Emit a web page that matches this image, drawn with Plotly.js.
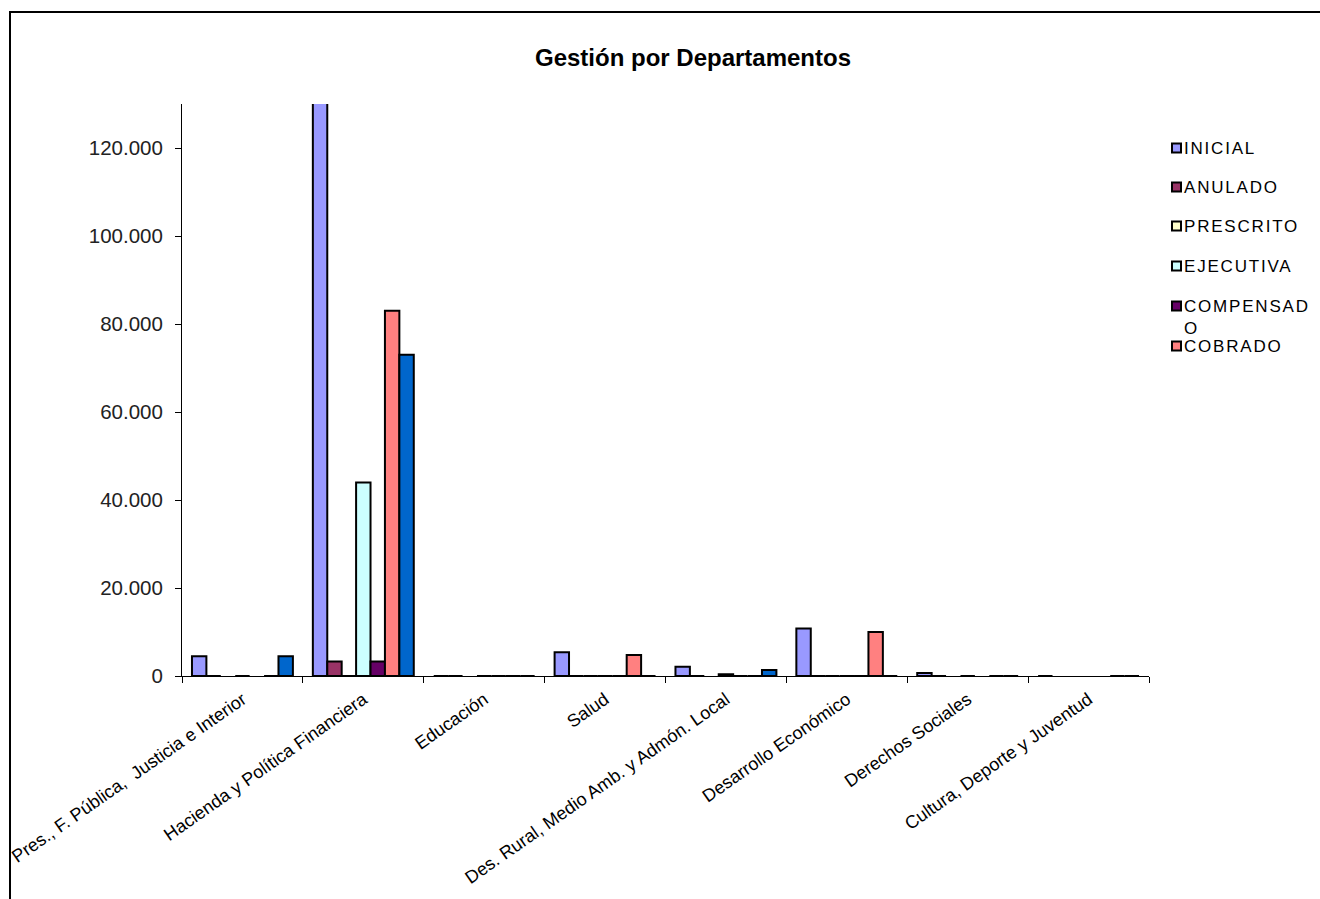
<!DOCTYPE html>
<html>
<head>
<meta charset="utf-8">
<script src="https://cdn.plot.ly/plotly-3.0.1.min.js"></script>
<style>
  html, body { margin: 0; padding: 0; background: #fff; overflow: hidden; }
  #chart { position: absolute; left: 0; top: 0; width: 1320px; height: 899px; }
  #frame { position: absolute; left: 9px; top: 11px; width: 1400px; height: 1000px;
           border: 2px solid #000; pointer-events: none; }
  #chart .annotation-text { letter-spacing: 1.8px; }
</style>
</head>
<body>
<div id="chart"></div>
<div id="frame"></div>
<script>
// ---- data ----
const categories = [
  "Pres., F. Pública,  Justicia e Interior",
  "Hacienda y Política Financiera",
  "Educación",
  "Salud",
  "Des. Rural, Medio Amb. y Admón. Local",
  "Desarrollo Económico",
  "Derechos Sociales",
  "Cultura, Deporte y Juventud"
];
const inicial    = [4500, 140000, 0, 5400, 2100, 10800, 700, 0];
const anulado    = [0, 3300, 0, 0, 0, 0, 0, null];
const prescrito  = [null, 0, null, 0, null, 0, null, null];
const ejecutiva  = [0, 44000, 0, 0, 400, 0, 0, null];
const compensado = [null, 3300, 0, 0, 0, 0, null, null];
const cobrado    = [0, 83000, 0, 4800, 0, 10000, 0, 0];
const pendiente  = [4500, 73000, 0, 0, 1350, 0, 0, 0];

const seriesNames  = ["INICIAL", "ANULADO", "PRESCRITO", "EJECUTIVA", "COMPENSADO", "COBRADO", "PENDIENTE"];
const legendLabels = ["INICIAL", "ANULADO", "PRESCRITO", "EJECUTIVA", "COMPENSAD<br>O", "COBRADO"];
const seriesValues = [inicial, anulado, prescrito, ejecutiva, compensado, cobrado, pendiente];
const seriesColors = ["#9999FF", "#993366", "#FFFFCC", "#CCFFFF", "#660066", "#FF8080", "#0066CC"];
const yTicks = [0, 20000, 40000, 60000, 80000, 100000, 120000];

// ---- plot geometry ----
const W = 1320, H = 899;
const L = 182, R = 1149, T = 104, B = 676;

const traces = seriesNames.map((name, i) => ({
  type: "bar",
  name: name,
  x: categories,
  y: seriesValues[i],
  marker: { color: seriesColors[i], line: { color: "#000", width: 2 } },
  showlegend: false,
  hoverinfo: "x+y+name"
}));

// custom Excel-like legend (swatch right beside text)
const legendRowsPx = [148, 187, 226, 266, 306, 346];
const shapes = [];
const annotations = [];
const px2x = p => (p - L) / (R - L);
const py2y = p => (B - p) / (B - T);
legendLabels.forEach((lab, i) => {
  const cy = legendRowsPx[i];
  shapes.push({
    type: "rect", xref: "paper", yref: "paper",
    x0: px2x(1172), x1: px2x(1181), y0: py2y(cy + 4.5), y1: py2y(cy - 4.5),
    fillcolor: seriesColors[i], line: { color: "#000", width: 2 }
  });
  annotations.push({
    xref: "paper", yref: "paper",
    x: px2x(1182), y: py2y(cy - 11),
    xanchor: "left", yanchor: "top", align: "left",
    text: lab, showarrow: false,
    font: { family: "Liberation Sans, Arial, sans-serif", size: 17, color: "#000" }
  });
});

const layout = {
  width: W, height: H,
  margin: { l: L, r: W - R, t: T, b: H - B, pad: 0 },
  paper_bgcolor: "#fff",
  plot_bgcolor: "#fff",
  separators: ",.",
  font: { family: "Liberation Sans, Arial, sans-serif", color: "#000" },
  title: {
    text: "<b>Gestión por Departamentos</b>",
    font: { family: "Liberation Sans, Arial, sans-serif", size: 24, color: "#000" },
    xref: "container", yref: "container",
    x: 693 / W, y: 1 - 58 / H, xanchor: "center", yanchor: "middle"
  },
  barmode: "group",
  bargap: 0.165,
  bargroupgap: 0,
  showlegend: false,
  xaxis: {
    type: "category",
    tickson: "boundaries",
    ticks: "outside", ticklen: 6, tickcolor: "#000", tickwidth: 1,
    showline: true, linecolor: "#000", linewidth: 1,
    showgrid: false, zeroline: false,
    tickangle: -35,
    ticklabelstandoff: 5,
    tickfont: { family: "Liberation Sans, Arial, sans-serif", size: 18, color: "#000" },
    fixedrange: true
  },
  yaxis: {
    range: [0, 130000],
    tickvals: yTicks,
    tickformat: ",d",
    ticks: "outside", ticklen: 6, tickcolor: "#000", tickwidth: 1,
    showline: true, linecolor: "#000", linewidth: 1,
    showgrid: false, zeroline: false,
    ticklabelstandoff: 8,
    tickfont: { family: "Liberation Sans, Arial, sans-serif", size: 20.5, color: "#222" },
    fixedrange: true
  },
  shapes: shapes,
  annotations: annotations
};

Plotly.newPlot("chart", traces, layout, { displayModeBar: false, staticPlot: true });
</script>
</body>
</html>
